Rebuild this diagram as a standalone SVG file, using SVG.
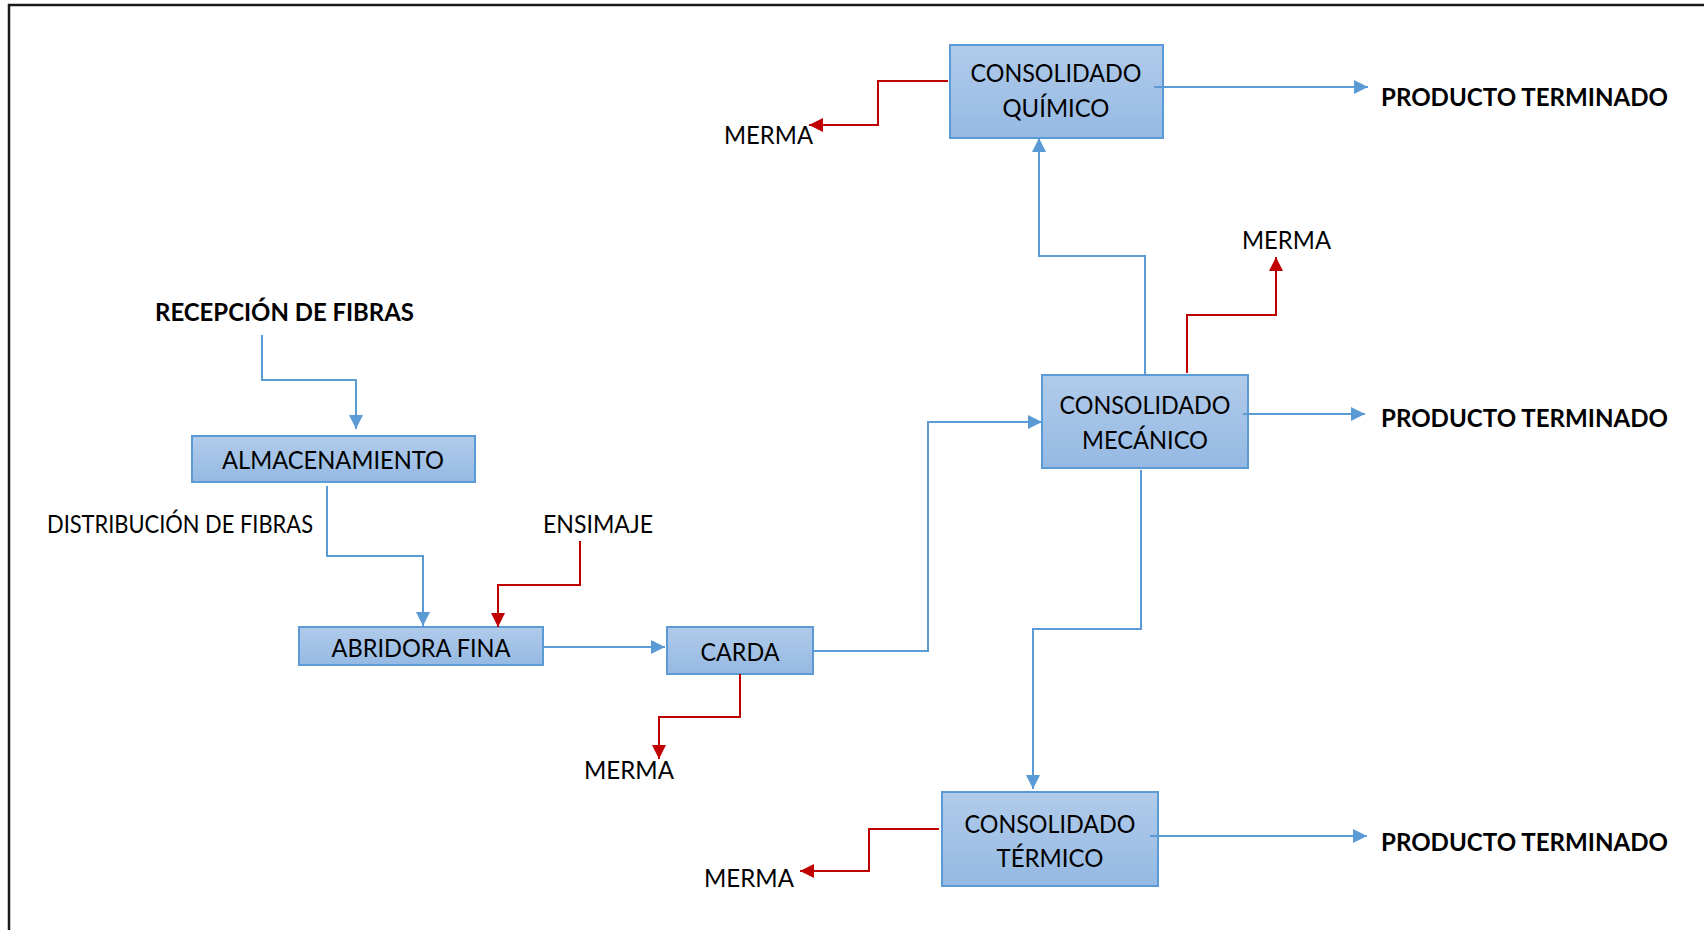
<svg xmlns="http://www.w3.org/2000/svg" width="1704" height="930" viewBox="0 0 1704 930">
<style>
.box{fill:url(#g);stroke:#5b9bd5;stroke-width:2}
.t{font-family:Lato,"Open Sans","Liberation Sans",sans-serif;font-size:25px;fill:#000}
.c{text-anchor:middle}
.b{font-weight:bold}
.blue{fill:none;stroke:#5b9bd5;stroke-width:2;marker-end:url(#ab)}
.red{fill:none;stroke:#c00000;stroke-width:2;marker-end:url(#ar)}
</style>
<defs>
<linearGradient id="g" x1="0" y1="0" x2="0" y2="1">
<stop offset="0" stop-color="#b1cbea"/>
<stop offset="1" stop-color="#95b9e3"/>
</linearGradient>
<marker id="ab" markerUnits="userSpaceOnUse" markerWidth="16" markerHeight="16" refX="14" refY="7" orient="auto">
<path d="M0,0 L14,7 L0,14 Z" fill="#5b9bd5"/>
</marker>
<marker id="ar" markerUnits="userSpaceOnUse" markerWidth="16" markerHeight="16" refX="14" refY="7" orient="auto">
<path d="M0,0 L14,7 L0,14 Z" fill="#c00000"/>
</marker>
</defs>
<rect x="0" y="0" width="1704" height="930" fill="#fff"/>
<path d="M9,940 L9,5 L1710,5" fill="none" stroke="#1a1a1a" stroke-width="2.5"/>

<g id="quimico">
<rect class="box" x="950" y="45" width="213" height="93"/>
<text class="t c" x="1056" y="82" textLength="171" lengthAdjust="spacingAndGlyphs">CONSOLIDADO</text>
<text class="t c" x="1056" y="117" textLength="107" lengthAdjust="spacingAndGlyphs">QUÍMICO</text>
</g>
<g id="mecanico">
<rect class="box" x="1042" y="375" width="206" height="93"/>
<text class="t c" x="1145" y="414" textLength="171" lengthAdjust="spacingAndGlyphs">CONSOLIDADO</text>
<text class="t c" x="1145" y="449" textLength="126" lengthAdjust="spacingAndGlyphs">MECÁNICO</text>
</g>
<g id="termico">
<rect class="box" x="942" y="792" width="216" height="94"/>
<text class="t c" x="1050" y="833" textLength="171" lengthAdjust="spacingAndGlyphs">CONSOLIDADO</text>
<text class="t c" x="1050" y="867" textLength="107" lengthAdjust="spacingAndGlyphs">TÉRMICO</text>
</g>
<g id="almacenamiento">
<rect class="box" x="192" y="436" width="283" height="46"/>
<text class="t c" x="333" y="469" textLength="222" lengthAdjust="spacingAndGlyphs">ALMACENAMIENTO</text>
</g>
<g id="abridora">
<rect class="box" x="299" y="627" width="244" height="38"/>
<text class="t c" x="421" y="657" textLength="179" lengthAdjust="spacingAndGlyphs">ABRIDORA FINA</text>
</g>
<g id="carda">
<rect class="box" x="667" y="627" width="146" height="47"/>
<text class="t c" x="740" y="661" textLength="79" lengthAdjust="spacingAndGlyphs">CARDA</text>
</g>

<g id="recepcion"><text class="t b" x="155" y="321" textLength="259" lengthAdjust="spacingAndGlyphs">RECEPCIÓN DE FIBRAS</text></g>
<g id="distribucion"><text class="t" x="47" y="533" font-size="23" textLength="266" lengthAdjust="spacingAndGlyphs">DISTRIBUCIÓN DE FIBRAS</text></g>
<g id="ensimaje"><text class="t" x="543" y="533" textLength="110" lengthAdjust="spacingAndGlyphs">ENSIMAJE</text></g>
<g id="merma1"><text class="t" x="724" y="144" textLength="89" lengthAdjust="spacingAndGlyphs">MERMA</text></g>
<g id="merma2"><text class="t" x="1242" y="249" textLength="89" lengthAdjust="spacingAndGlyphs">MERMA</text></g>
<g id="merma3"><text class="t" x="584" y="779" textLength="90" lengthAdjust="spacingAndGlyphs">MERMA</text></g>
<g id="merma4"><text class="t" x="704" y="887" textLength="90" lengthAdjust="spacingAndGlyphs">MERMA</text></g>
<g id="pt1"><text class="t b" x="1381" y="106" textLength="287" lengthAdjust="spacingAndGlyphs">PRODUCTO TERMINADO</text></g>
<g id="pt2"><text class="t b" x="1381" y="427" textLength="287" lengthAdjust="spacingAndGlyphs">PRODUCTO TERMINADO</text></g>
<g id="pt3"><text class="t b" x="1381" y="851" textLength="287" lengthAdjust="spacingAndGlyphs">PRODUCTO TERMINADO</text></g>

<g id="connectors">
<path class="blue" d="M262,335 L262,380 L356,380 L356,429"/>
<path class="blue" d="M327,486 L327,556 L423,556 L423,626"/>
<path class="red" d="M580,541 L580,585 L498,585 L498,627"/>
<path class="blue" d="M543,647 L665,647"/>
<path class="blue" d="M813,651 L928,651 L928,422 L1042,422"/>
<path class="red" d="M740,674 L740,717 L659,717 L659,759"/>
<path class="blue" d="M1145,375 L1145,256 L1039,256 L1039,138"/>
<path class="red" d="M1187,373 L1187,315 L1276,315 L1276,257"/>
<path class="blue" d="M1141,470 L1141,629 L1033,629 L1033,789"/>
<path class="red" d="M948,81 L878,81 L878,125 L809,125"/>
<path class="red" d="M939,829 L869,829 L869,871 L800,871"/>
<path class="blue" d="M1154,87 L1368,87"/>
<path class="blue" d="M1243,414 L1365,414"/>
<path class="blue" d="M1150,836 L1367,836"/>
</g>
</svg>
